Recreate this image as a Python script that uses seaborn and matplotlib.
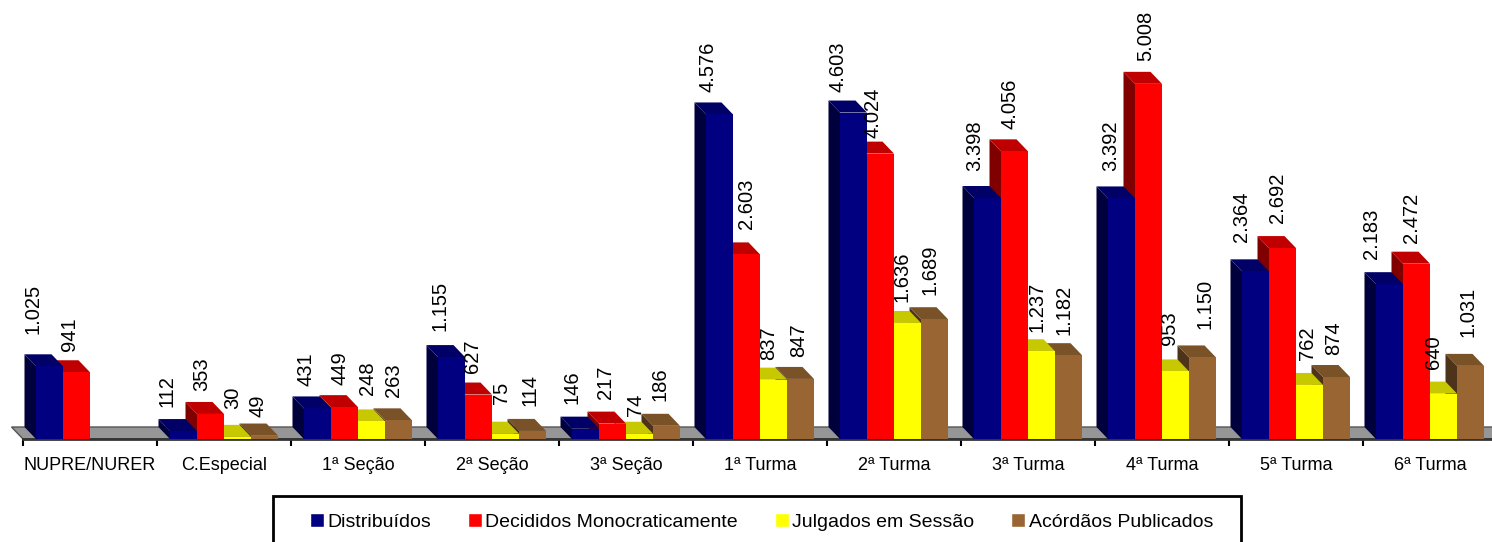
import numpy as np
import pandas as pd
import seaborn as sns
import matplotlib.pyplot as plt
from matplotlib.patches import Polygon, Rectangle
from matplotlib.ticker import FixedLocator

categories = ["NUPRE/NURER", "C.Especial", "1ª Seção", "2ª Seção", "3ª Seção", "1ª Turma",
              "2ª Turma", "3ª Turma", "4ª Turma", "5ª Turma", "6ª Turma"]
distribuidos = [1025, 112, 431, 1155, 146, 4576, 4603, 3398, 3392, 2364, 2183]
decididos = [941, 353, 449, 627, 217, 2603, 4024, 4056, 5008, 2692, 2472]
julgados = [np.nan, 30, 248, 75, 74, 837, 1636, 1237, 953, 762, 640]
acordaos = [np.nan, 49, 263, 114, 186, 847, 1689, 1182, 1150, 874, 1031]

series_names = ["Distribuídos", "Decididos Monocraticamente", "Julgados em Sessão", "Acórdãos Publicados"]
front_colors = ["#000080", "#FF0000", "#FFFF00", "#996633"]
top_colors = ["#000066", "#C00000", "#C8C800", "#7A5228"]
side_colors = ["#00003C", "#800000", "#808000", "#4D3319"]

# the labels sit a bit irregularly in the original, so per label nudges in pixels
label_dx = [[-3, -3, 2, 2, 0, 2, -2, 1, 3, 0, -4],
            [7, 5, 9, 8, 7, 14, 6, 9, 11, 9, 9],
            [0, 9, 10, 10, 10, 9, 8, 9, 8, 11, 4],
            [0, 7, 8, 11, 7, 12, 9, 9, 16, 11, 11]]
label_gap = [[20, 12, 10, 14, 13, 10, 9, 15, 15, 17, 13],
             [9, 11, 10, 10, 13, 13, 4, 10, 11, 13, 9],
             [0, 16, 14, 18, 6, 8, 9, 7, 14, 13, 13],
             [0, 7, 11, 13, 13, 10, 12, 8, 16, 10, 17]]

sns.set_theme(style="white")
plt.rcParams["font.family"] = ["Liberation Sans", "DejaVu Sans"]

frame = pd.DataFrame({"categoria": categories, series_names[0]: distribuidos, series_names[1]: decididos,
                      series_names[2]: julgados, series_names[3]: acordaos})
long_data = frame.melt(id_vars="categoria", var_name="serie", value_name="valor")

W, H = 1492, 542
BASE_Y = 439
LEFT_X = 23
STEP = 134
UNITS_PER_PX = 14.1

fig = plt.figure(figsize=(W / 100, H / 100), dpi=100)
ax = fig.add_axes([LEFT_X / W, (H - BASE_Y) / H, (W - LEFT_X) / W, BASE_Y / H])

sns.barplot(data=long_data, x="categoria", y="valor", hue="serie", hue_order=series_names,
            order=categories, palette=front_colors, saturation=1, width=0.806, gap=0, ax=ax,
            errorbar=None, zorder=5)

ax.set_xlim(-0.5, -0.5 + (W - LEFT_X) / STEP)
ax.set_ylim(0, BASE_Y * UNITS_PER_PX)

dx = 11.5 / STEP
dy = 12 * UNITS_PER_PX

# floor of the chart
ax.add_patch(Polygon([(-0.5, 0), (-0.5 - dx, dy), (10.5, dy), (10.5 + dx, 0)], closed=True,
                     facecolor="#969696", edgecolor="#555555", lw=1, clip_on=False, zorder=1))

# depth of the bars, right to left, the fronts stay on top
for s, container in reversed(list(enumerate(ax.containers))):
    for bar in container.patches:
        h = bar.get_height()
        if np.isnan(h):
            continue
        x0 = bar.get_x()
        x1 = x0 + bar.get_width()
        # seaborn drops the empty rows, so take the category from the bar position
        i = int(round((x0 + x1) / 2))
        bar.set_edgecolor("none")
        ax.add_patch(Polygon([(x0, 0), (x0 - dx, dy), (x0 - dx, h + dy), (x0, h)], closed=True,
                             facecolor=side_colors[s], lw=0, clip_on=False, zorder=3))
        ax.add_patch(Polygon([(x0, h), (x0 - dx, h + dy), (x1 - dx, h + dy), (x1, h)], closed=True,
                             facecolor=top_colors[s], lw=0, clip_on=False, zorder=3))
        label = f"{int(h):,}".replace(",", ".")
        ax.text(x0 + label_dx[s][i] / STEP, h + dy + label_gap[s][i] * UNITS_PER_PX, label, rotation=90,
                ha="center", va="bottom", fontsize=14.5, color="black", zorder=8, clip_on=False)

sns.despine(ax=ax, left=True, top=True, right=True)
ax.spines["bottom"].set_color("#333333")
ax.spines["bottom"].set_linewidth(2)
ax.set_xlabel("")
ax.set_ylabel("")
ax.set_yticks([])
ax.xaxis.set_minor_locator(FixedLocator(np.arange(-0.5, 11, 1)))
ax.tick_params(axis="x", which="minor", length=5, width=1.5, color="black", bottom=True)
ax.tick_params(axis="x", which="major", length=0, pad=13, labelsize=13, labelcolor="black")

# legend box runs off the bottom of the picture
fig.add_artist(Rectangle((273 / W, -6 / H), 968 / W, 52 / H, transform=fig.transFigure,
                         facecolor="white", edgecolor="black", lw=2))

handles, labels = ax.get_legend_handles_labels()
leg = ax.legend(handles, labels, loc="center left", bbox_to_anchor=(310 / W, 20 / H),
                bbox_transform=fig.transFigure, ncol=4, frameon=False,
                fontsize=14, labelcolor="black",
                handlelength=0.72, handleheight=0.72, handletextpad=0.17, columnspacing=1.9,
                borderpad=0, borderaxespad=0)
leg.set_zorder(10)
leg.remove()
fig.add_artist(leg)

fig.savefig("out.png", dpi=100)
